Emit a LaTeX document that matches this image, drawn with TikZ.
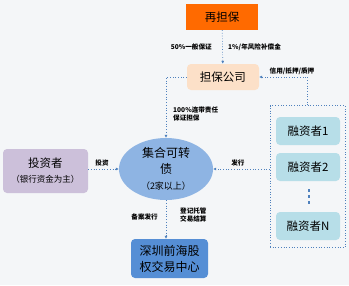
\documentclass[tikz,border=0pt]{standalone}
\usepackage{fontspec}
\setmainfont{Noto Sans CJK SC}
\usetikzlibrary{positioning, arrows.meta, shapes.geometric}
\definecolor{bggray}{RGB}{244, 246, 248}
\definecolor{zborange}{RGB}{255, 106, 0}
\definecolor{dbpeach}{RGB}{252, 224, 200}
\definecolor{jhblue}{RGB}{142, 180, 227}
\definecolor{tzpurple}{RGB}{204, 192, 218}
\definecolor{rzcyan}{RGB}{183, 222, 232}
\definecolor{qhblue}{RGB}{85, 142, 213}
\definecolor{lineblue}{RGB}{79, 129, 189}

\begin{document}
\begin{tikzpicture}[x=1pt, y=-1pt,
    box/.style={rounded corners=4pt, inner sep=0pt, align=center, font=\fontsize{11.5}{15}\selectfont},
    lbl/.style={font=\fontsize{6.6}{8.5}\selectfont\bfseries, align=left, inner sep=1pt},
    link/.style={lineblue, line width=0.7pt, dotted, -{Latex[length=3pt, width=3pt]}}]
    % Fond
    \fill[bggray] (0, 0) rectangle (349, 285);

    % Blocs principaux
    \node[box, fill=zborange, rounded corners=0pt, minimum width=72, minimum height=26] (zdb) at (222, 17) {再担保};
    \node[box, fill=dbpeach, minimum width=72, minimum height=26] (dbgs) at (223, 77) {担保公司};
    \node[box, ellipse, fill=jhblue, minimum width=94, minimum height=62, font=\fontsize{12}{16}\selectfont] (jhzz) at (166, 169)
        {集合可转\\债\\{\fontsize{9}{11}\selectfont（2家以上）}};
    \node[box, fill=tzpurple, minimum width=85, minimum height=44] (tzz) at (45.5, 171)
        {投资者\\{\fontsize{8.5}{11}\selectfont（银行资金为主）}};
    \node[box, fill=qhblue, minimum width=77, minimum height=39, font=\fontsize{12}{16}\selectfont] (qhzx) at (169.5, 258.5)
        {深圳前海股\\权交易中心};

    % Groupe des emprunteurs
    \node[draw=lineblue, dotted, line width=0.7pt, minimum width=75, minimum height=142] (rzf) at (307.5, 176.5) {};
    \node[box, fill=rzcyan, minimum width=64, minimum height=28] (rz1) at (308, 131) {融资者1};
    \node[box, fill=rzcyan, minimum width=64, minimum height=28] (rz2) at (308, 167) {融资者2};
    \node[box, fill=rzcyan, minimum width=64, minimum height=28] (rzn) at (308, 226) {融资者N};
    \foreach \y in {189, 195, 201} {
        \fill[lineblue] (307.5, \y) rectangle ++(2, 2.5);
    }

    % Flux
    \draw[link] (zdb) -- (dbgs);
    \node[lbl, left] (l50) at (213, 47) {50\%一般保证};
    \node[lbl, right] (l1) at (227, 47) {1\%/年风险补偿金};

    \draw[link] (dbgs.west) -| (jhzz.north);
    \node[lbl, right] (l100) at (172, 114) {100\%连带责任\\保证担保};

    \draw[link] (rzf.north) |- (dbgs.east);
    \node[lbl] (lxy) at (292, 71) {信用/抵押/质押};

    \draw[link] (tzz.east |- jhzz.west) -- (jhzz.west);
    \node[lbl] (ltz) at (102, 163) {投资};

    \draw[link] (rzf.west |- jhzz.east) -- (jhzz.east);
    \node[lbl] (lfx) at (238, 163) {发行};

    \draw[link] (jhzz.south) -- (jhzz.south |- qhzx.north);
    \node[lbl, left] (lba) at (159, 217) {备案发行};
    \node[lbl, right] (ldj) at (179, 215) {登记托管\\交易结算};
\end{tikzpicture}
\end{document}
